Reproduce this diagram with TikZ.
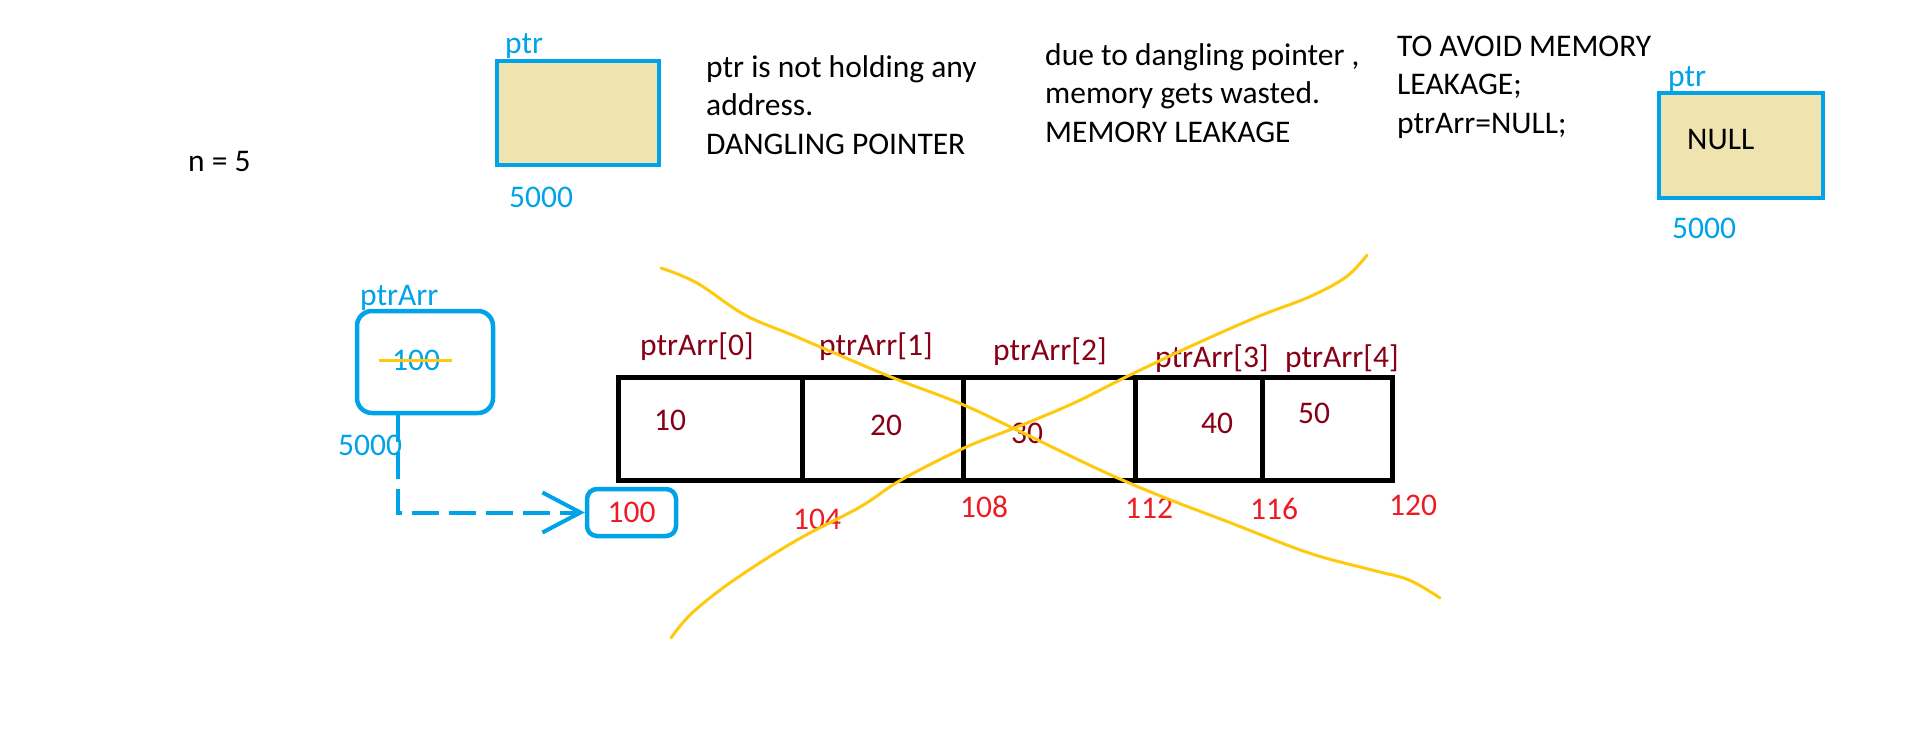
\documentclass[tikz,border=0pt]{standalone}
\usepackage{fontspec}
\setmainfont{Carlito}
\usetikzlibrary{arrows.meta,positioning}
\definecolor{ptrblue}{HTML}{00A2E8}
\definecolor{boxtan}{HTML}{EFE4B0}
\definecolor{valred}{HTML}{880015}
\definecolor{addrred}{HTML}{ED1C24}
\definecolor{crossgold}{HTML}{FFC90E}
\tikzset{
  txt/.style={inner sep=0pt, anchor=base west, align=left,
    font=\fontsize{31.5}{38.5}\selectfont},
  ptrbox/.style={draw=ptrblue, fill=boxtan, line width=4.5pt},
  roundbox/.style={draw=ptrblue, line width=4.5pt},
  cell/.style={draw, line width=5pt, minimum height=103pt},
  link/.style={draw=ptrblue, line width=4pt, dash pattern=on 27pt off 10pt,
    -{Straight Barb[length=38pt, width=40pt]}},
  cross/.style={draw=crossgold, line width=3pt, line cap=round}
}
\begin{document}
\begin{tikzpicture}[x=1pt,y=-1pt]
\useasboundingbox (0,0) rectangle (1914,734);

\node[txt] (n) at (188,171) {n = 5};

% ptr with no address
\node[ptrbox, minimum width=162pt, minimum height=104pt] (ptrold) at (578,113) {};
\node[txt, ptrblue] (ptroldname) at (505,53) {ptr};
\node[txt, ptrblue] (ptroldaddr) at (509,207) {5000};
\node[txt] (dangling) at (706,154) {ptr is not holding any\\address.\\DANGLING POINTER};
\node[txt] (leakage) at (1045,142) {due to dangling pointer ,\\memory gets wasted.\\MEMORY LEAKAGE};
\node[txt] (avoid) at (1397,133) {TO AVOID MEMORY\\LEAKAGE;\\ptrArr=NULL;};

% ptr set to NULL
\node[ptrbox, minimum width=164pt, minimum height=105pt] (ptrnull) at (1741,145.5) {};
\node[txt] (nullval) at (1687,149) {NULL};
\node[txt, ptrblue] (ptrnullname) at (1668,86) {ptr};
\node[txt, ptrblue] (ptrnulladdr) at (1672,238) {5000};

% ptrArr pointing to the array
\node[roundbox, rounded corners=15pt, minimum width=136pt, minimum height=102pt] (arrptr) at (425,362) {};
\node[txt, ptrblue] (arrptrname) at (360,305) {ptrArr};
\node[txt, ptrblue] (arrptrval) at (392,370) {100};
\node[txt, ptrblue] (arrptraddr) at (338,455) {5000};
\draw[crossgold, line width=3pt] (379,360) -- (452,360);

\node[roundbox, rounded corners=10pt, minimum width=89pt, minimum height=47pt,
  inner sep=0pt, font=\fontsize{31.5}{38.5}\selectfont, text=addrred] (base) at (631.5,512.5) {100};
\draw[link] ([xshift=-27pt]arrptr.south) |- (base.west);

% the array
\foreach \i/\xa/\xb in {0/618/802,1/802/963,2/963/1135,3/1135/1262,4/1262/1392}
  \node[cell, minimum width={(\xb-\xa)*1pt}] (cell\i) at ({(\xa+\xb)/2},428.5) {};
\foreach \i/\x/\y in {0/640/355,1/819/355,2/993/360,3/1155/367,4/1285/367}
  \node[txt, valred] (name\i) at (\x,\y) {ptrArr[\i]};
\foreach \v/\x/\y in {10/654/430,20/870/435,30/1011/443,40/1201/433,50/1298/423}
  \node[txt, valred] (val\v) at (\x,\y) {\v};
\foreach \a/\x/\y in {104/793/529,108/960/517,112/1125/518,116/1250/519,120/1389/515}
  \node[txt, addrred] (addr\a) at (\x,\y) {\a};

% crossed out
\draw[cross] plot[smooth, tension=0.6] coordinates {(661,268) (697,283) (745,315) (797,337)
  (891,377) (959,403) (1017,430) (1100,470) (1163,497) (1231,523) (1309,553) (1372,570)
  (1409,580) (1440,598)};
\draw[cross] plot[smooth, tension=0.6] coordinates {(671,638) (692,613) (734,580) (797,540)
  (860,507) (901,480) (964,448) (1017,427) (1074,403) (1126,377) (1189,347) (1257,317)
  (1309,297) (1346,277) (1367,255)};
\end{tikzpicture}
\end{document}
